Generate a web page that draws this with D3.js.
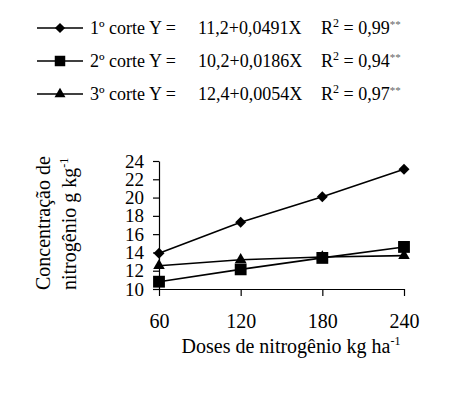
<!DOCTYPE html>
<html>
<head>
<meta charset="utf-8">
<script src="https://cdn.jsdelivr.net/npm/d3@7"></script>
<style>
  body { margin: 0; background: #fff; }
  svg text { font-family: "Liberation Serif", "Times New Roman", serif; }
</style>
</head>
<body>
<svg width="454" height="393"></svg>
<script>
// data
var doses = [60, 120, 180, 240];
var corte1 = [13.9, 17.3, 20.1, 23.1];
var corte2 = [10.8, 12.15, 13.4, 14.6];
var corte3 = [12.55, 13.2, 13.5, 13.65];
var yTicks = [10, 12, 14, 16, 18, 20, 22, 24];
var seriesNames = ['1º corte Y =', '2º corte Y =', '3º corte Y ='];
var equations = ['11,2+0,0491X', '10,2+0,0186X', '12,4+0,0054X'];
var r2Values = ['0,99', '0,94', '0,97'];

var series = [
  { name: seriesNames[0], eq: equations[0], r2: r2Values[0], values: corte1, shape: 'diamond' },
  { name: seriesNames[1], eq: equations[1], r2: r2Values[1], values: corte2, shape: 'square' },
  { name: seriesNames[2], eq: equations[2], r2: r2Values[2], values: corte3, shape: 'triangle' }
];

var svg = d3.select('svg');

var xScale = d3.scaleLinear()
                .domain([60, 240])
                .range([159, 404]);

var yScale = d3.scaleLinear()
                .domain([10, 24])
                .range([289, 161]);

var xAxis = d3.axisBottom(xScale)
              .tickValues(doses)
              .tickSize(7)
              .tickSizeOuter(0)
              .tickPadding(18);

var yAxis = d3.axisLeft(yScale)
              .tickValues(yTicks)
              .tickSize(6)
              .tickSizeOuter(0)
              .tickPadding(9);

svg.append('g')
    .attr('transform', 'translate(0,' + yScale(10) + ')')
    .call(xAxis)
    .attr('font-family', null)
    .call(g => g.selectAll('text').style('font-size', '20px').attr('fill', '#000'));

svg.append('g')
    .attr('transform', 'translate(' + xScale(60) + ',0)')
    .call(yAxis)
    .attr('font-family', null)
    .call(g => g.selectAll('text').style('font-size', '19px').attr('fill', '#000'));

svg.selectAll('.domain, .tick line')
    .attr('stroke', '#000')
    .attr('stroke-width', 1.2);

// marker helper
function marker(shape, big) {
  if (shape === 'diamond') return { path: d3.symbol(d3.symbolSquare, big ? 60 : 52)(), rot: 45 };
  if (shape === 'square') return { path: d3.symbol(d3.symbolSquare, big ? 140 : 110)(), rot: 0 };
  return { path: d3.symbol(d3.symbolTriangle, big ? 58 : 52)(), rot: 0 };
}

var line = d3.line()
    .x((d, i) => xScale(doses[i]))
    .y(d => yScale(d));

series.forEach(function (s) {
  svg.append('path')
      .attr('d', line(s.values))
      .attr('fill', 'none')
      .attr('stroke', '#000')
      .attr('stroke-width', 1.6);

  var m = marker(s.shape, true);
  svg.selectAll(null)
    .data(s.values)
    .enter()
    .append('path')
      .attr('d', m.path)
      .attr('transform', (d, i) => 'translate(' + xScale(doses[i]) + ',' + yScale(d) + ') rotate(' + m.rot + ')')
      .attr('fill', '#000');
});

// legend
var legend = svg.selectAll('.legend')
  .data(series)
  .enter()
  .append('g')
    .attr('class', 'legend')
    .attr('transform', (d, i) => 'translate(0,' + (28 + i * 33) + ')');

legend.append('line')
    .attr('x1', 37)
    .attr('x2', 83)
    .attr('stroke', '#000')
    .attr('stroke-width', 1.6);

legend.append('path')
    .attr('d', d => marker(d.shape, false).path)
    .attr('transform', d => 'translate(60,0) rotate(' + marker(d.shape, false).rot + ')')
    .attr('fill', '#000');

legend.append('text')
    .attr('x', 90)
    .attr('y', 6)
    .style('font-size', '18px')
    .text(d => d.name);

legend.append('text')
    .attr('x', 198)
    .attr('y', 6)
    .style('font-size', '18px')
    .text(d => d.eq);

var r2 = legend.append('text')
    .attr('x', 321)
    .attr('y', 6)
    .style('font-size', '18px');
r2.append('tspan').text('R');
r2.append('tspan').attr('dy', -7).style('font-size', '12px').text('2');
r2.append('tspan').attr('dy', 7).text(d => ' = ' + d.r2);
r2.append('tspan').attr('dy', -6).style('font-size', '11px').attr('fill', '#666').text('**');

// axis titles
svg.append('text')
  .attr('x', 291)
  .attr('y', 353)
  .style('text-anchor', 'middle')
  .style('font-size', '20px')
  .text('Doses de nitrogênio kg ha')
  .append('tspan')
    .attr('dy', -8)
    .style('font-size', '12px')
    .text('-1');

svg.append('text')
  .attr('transform', 'rotate(-90)')
  .attr('x', -290)
  .attr('y', 50)
  .style('font-size', '20px')
  .text('Concentração de');

svg.append('text')
  .attr('transform', 'rotate(-90)')
  .attr('x', -290)
  .attr('y', 76)
  .style('font-size', '20px')
  .text('nitrogênio g kg')
  .append('tspan')
    .attr('dy', -8)
    .style('font-size', '12px')
    .text('-1');
</script>
</body>
</html>
